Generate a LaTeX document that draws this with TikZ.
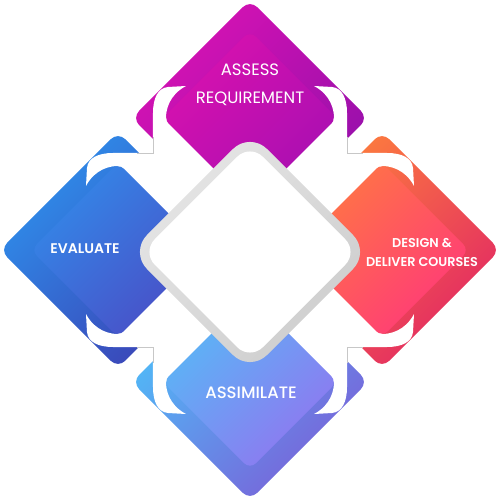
\documentclass[tikz,border=0pt]{standalone}
\usepackage{fontspec}
\setmainfont{Poppins}[BoldFont={Poppins SemiBold}]
\newfontfamily\popmed{Poppins Medium}
\definecolor{topA}{HTML}{D812B4}
\definecolor{topB}{HTML}{9210AA}
\definecolor{topC}{HTML}{D811AE}
\definecolor{topD}{HTML}{A80FB2}
\definecolor{lefA}{HTML}{2E90EC}
\definecolor{lefB}{HTML}{3C3EB2}
\definecolor{lefC}{HTML}{3388E8}
\definecolor{lefD}{HTML}{4A4EC6}
\definecolor{rigA}{HTML}{FF843A}
\definecolor{rigB}{HTML}{E22864}
\definecolor{rigC}{HTML}{FF7644}
\definecolor{rigD}{HTML}{FF3A78}
\definecolor{botA}{HTML}{4CC2FA}
\definecolor{botB}{HTML}{7A60D8}
\definecolor{botC}{HTML}{58B8F6}
\definecolor{botD}{HTML}{9076F0}
\definecolor{ringA}{HTML}{E6E6E6}
\definecolor{ringB}{HTML}{CDCDCD}
\newcommand\dmd[3]{(#1,#2+#3) -- (#1+#3,#2) -- (#1,#2-#3) -- (#1-#3,#2) -- cycle}
\newcommand\hookarm{(-97,85) -- (-97,137) .. controls (-97,152) and (-92,162) .. (-82,163) -- (-64,164) .. controls (-74,159) and (-84,148) .. (-84,132) -- (-10,132) -- (-10,85) -- cycle}
\tikzset{
  outerd/.style={rounded corners=10pt},
  innerd/.style={rounded corners=8pt},
  lbl/.style={text=white, inner sep=0pt, align=center},
  shadowline/.style={draw=black!22, line width=0.7pt}
}
\begin{document}
\begin{tikzpicture}[x=1pt,y=1pt]
\useasboundingbox (-250,-250) rectangle (250,250);
% outer diamonds
\shade[outerd, top color=topA, bottom color=topB, shading angle=45] \dmd{0}{132}{118};
\shade[outerd, top color=lefA, bottom color=lefB, shading angle=45] \dmd{-132}{0}{118};
\shade[outerd, top color=rigA, bottom color=rigB, shading angle=45] \dmd{132}{0}{118};
\shade[outerd, top color=botA, bottom color=botB, shading angle=45] \dmd{0}{-132}{118};
% white square and hooks
\fill[white] (-97,-97) rectangle (97,97);
\foreach \a/\b/\c/\d in {1/0/0/1, -1/0/0/1, 1/0/0/-1, -1/0/0/-1, 0/1/1/0, 0/-1/1/0, 0/1/-1/0, 0/-1/-1/0}{
  \begin{scope}[cm={\a,\b,\c,\d,(0,0)}]
    \fill[white] \hookarm;
  \end{scope}
}
\foreach \sx/\sy in {1/1, -1/1, 1/-1, -1/-1}{
  \begin{scope}[xscale=\sx, yscale=\sy]
    \coordinate (c1) at (-97,113);
    \coordinate (c2) at (-97,97);
    \coordinate (c3) at (-113,97);
    \draw[shadowline] (c1) -- (c2) -- (c3);
  \end{scope}
}
% inner diamonds
\shade[innerd, top color=topC, bottom color=topD, shading angle=45] \dmd{0}{132}{87};
\shade[innerd, top color=lefC, bottom color=lefD, shading angle=45] \dmd{-132}{0}{87};
\shade[innerd, top color=rigC, bottom color=rigD, shading angle=45] \dmd{132}{0}{87};
\shade[innerd, top color=botC, bottom color=botD, shading angle=45] \dmd{0}{-132}{87};
% central diamond
\shade[rounded corners=24pt, top color=ringA, bottom color=ringB, shading angle=45] \dmd{0}{-2}{120};
\fill[white, rounded corners=18pt] \dmd{0}{-2}{108};
% labels
\node[lbl, font=\fontsize{16.5}{28}\selectfont] (assess) at (0,165) {ASSESS\\REQUIREMENT};
\node[lbl, font=\fontsize{14}{16}\selectfont\bfseries] (evaluate) at (-165,1) {EVALUATE};
\node[lbl, font=\fontsize{12.8}{19}\selectfont\bfseries] (design) at (172,-2) {DESIGN \&\\DELIVER COURSES};
\node[lbl, font=\fontsize{16.5}{18}\selectfont\popmed] (assimilate) at (1,-143) {ASSIMILATE};
\end{tikzpicture}
\end{document}
